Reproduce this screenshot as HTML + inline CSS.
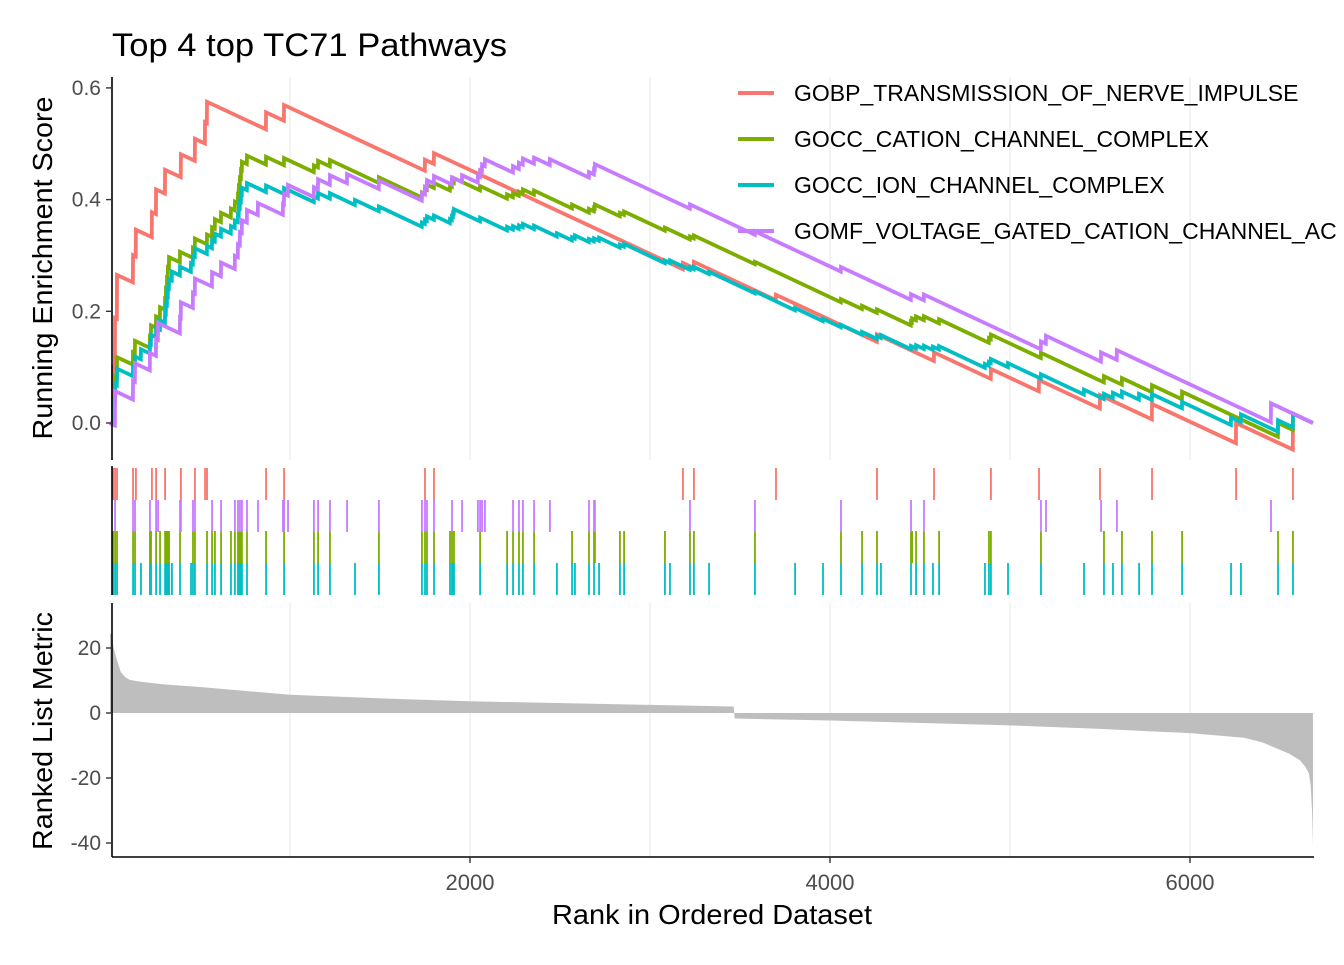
<!DOCTYPE html>
<html><head><meta charset="utf-8"><style>
html,body{margin:0;padding:0;background:#fff;}
svg text{font-family:"Liberation Sans",Arial,sans-serif;}
</style></head><body>
<svg id="chart" width="1344" height="960" xmlns="http://www.w3.org/2000/svg">
<rect width="1344" height="960" fill="#fff"/>
<g id="grid"></g>
<g id="metric"></g>
<g id="hits"></g>
<g id="lines"></g>
<g id="axes"></g>
<text x="112" y="56" font-size="32" textLength="395" lengthAdjust="spacingAndGlyphs" fill="#000">Top 4 top TC71 Pathways</text>
<text transform="translate(52,268) rotate(-90)" text-anchor="middle" font-size="28" textLength="343" lengthAdjust="spacingAndGlyphs">Running Enrichment Score</text>
<text transform="translate(52,731) rotate(-90)" text-anchor="middle" font-size="28" textLength="238" lengthAdjust="spacingAndGlyphs">Ranked List Metric</text>
<text x="712" y="924" text-anchor="middle" font-size="28" textLength="320" lengthAdjust="spacingAndGlyphs">Rank in Ordered Dataset</text>
<g id="legend"></g>
</svg>
<script>
const N = 6683;
const seriesNames = ["GOBP_TRANSMISSION_OF_NERVE_IMPULSE","GOCC_CATION_CHANNEL_COMPLEX","GOCC_ION_CHANNEL_COMPLEX","GOMF_VOLTAGE_GATED_CATION_CHANNEL_AC"];
const seriesColors = ["#F8766D","#7CAE00","#00BFC4","#C77CFF"];
const hitsRed = [17,28,39,128,144,233,256,306,394,472,528,539,867,967,1750,1800,3183,3244,3700,4261,4578,4894,5161,5500,5789,6256,6572];
const hitsGreen = [17,28,39,128,139,222,228,256,278,306,311,317,322,328,389,461,472,539,567,583,617,672,694,711,716,722,728,733,761,867,967,1133,1156,1222,1494,1733,1750,1761,1800,1889,1900,1911,2056,2206,2239,2272,2294,2356,2567,2661,2689,2694,2833,2856,3083,3222,3244,3583,4061,4178,4261,4450,4456,4478,4522,4606,4883,4894,5172,5522,5622,5789,5956,6489,6572];
const hitsCyan = [17,28,39,128,139,172,222,228,256,278,306,311,317,322,328,344,389,450,461,472,539,567,583,617,672,694,711,716,722,728,733,761,867,967,1133,1156,1222,1361,1494,1733,1750,1761,1800,1889,1900,1906,1911,2056,2206,2239,2272,2294,2356,2483,2567,2583,2661,2689,2717,2833,2856,3083,3111,3222,3244,3328,3583,3806,3961,4061,4178,4261,4283,4450,4478,4522,4572,4606,4861,4883,4894,4989,5172,5411,5522,5572,5622,5717,5789,5956,6228,6283,6489,6572];
const hitsPurple = [28,128,139,222,256,267,389,394,461,472,567,617,694,711,722,733,761,822,961,967,989,1133,1156,1222,1317,1494,1733,1750,1761,1800,1900,1956,2044,2056,2067,2083,2239,2272,2294,2356,2444,2661,2689,2694,3222,3583,4061,4450,4522,5172,5200,5506,5594,6450];
const metricRanks = [0,10,20,40,60,85,110,170,300,500,1000,1600,2000,3000,3465,3470,4000,5000,5500,6000,6300,6400,6550,6610,6640,6660,6670,6678,6683];
const metricValues = [24.6,24,20,16,12.6,11,10.2,9.6,8.8,8,5.6,4.3,3.6,2.5,2.0,-1.7,-2.3,-3.8,-4.9,-6.2,-7.6,-9,-12.5,-14.5,-16.5,-18.5,-22,-30,-41];
const esTicks = [0.0,0.2,0.4,0.6];
const metricTicks = [20,0,-20,-40];
const xTicks = [2000,4000,6000];
const gridRanks = [1000,2000,3000,4000,5000,6000];

const NS = "http://www.w3.org/2000/svg";
const X = r => 110 + r * 0.18;
const Yes = v => 423 - v * 558.5;
const Ym = v => 713 - v * 3.25;
function mk(tag, attrs, parent){const e=document.createElementNS(NS,tag);for(const k in attrs)e.setAttribute(k,attrs[k]);parent.appendChild(e);return e;}
function metricAt(r){
  for(let i=1;i<metricRanks.length;i++){ if(r<=metricRanks[i]){const a=metricRanks[i-1],b=metricRanks[i];const t=(r-a)/(b-a||1);return metricValues[i-1]+t*(metricValues[i]-metricValues[i-1]);} }
  return metricValues[metricValues.length-1];
}
const grid=document.getElementById('grid');
gridRanks.forEach(r=>{
  const l1=mk('line',{x1:X(r),x2:X(r),y1:77,y2:460,stroke:'#EBEBEB','stroke-width':1.2},grid);
  
  
  const l2=mk('line',{x1:X(r),x2:X(r),y1:603,y2:857,stroke:'#EBEBEB','stroke-width':1.2},grid);
  
  
});
let d='M'+X(0)+','+Ym(0);
metricRanks.forEach((r,i)=>{d+=' L'+X(r)+','+Ym(metricValues[i]);});
d+=' L'+X(N)+','+Ym(0)+' Z';
const area=mk('path',{d:d,fill:'#BEBEBE',stroke:'none'},document.getElementById('metric'));


const hitSets=[hitsRed,hitsGreen,hitsCyan,hitsPurple];
const bandTop=[468,531,563,500];
const hg=document.getElementById('hits');
hitSets.forEach((hs,si)=>{
  hs.forEach(r=>{
    const t=mk('rect',{x:X(r)-0.9,y:bandTop[si],width:1.8,height:32,fill:seriesColors[si]},hg);
    
    
  });
});
const lg=document.getElementById('lines');
hitSets.forEach((hs,si)=>{
  const sorted=[...hs].sort((a,b)=>a-b);
  let tot=0; sorted.forEach(r=>tot+=Math.abs(metricAt(r)));
  const miss=1/(N-sorted.length);
  let es=0,prev=0;
  let p='M'+X(0)+','+Yes(0);
  sorted.forEach(r=>{
    es-= (r-prev-1)*miss;
    p+=' L'+X(r-1).toFixed(2)+','+Yes(es).toFixed(2);
    es+= Math.abs(metricAt(r))/tot;
    p+=' L'+X(r).toFixed(2)+','+Yes(es).toFixed(2);
    prev=r;
  });
  es-=(N-prev)*miss;
  p+=' L'+X(N)+','+Yes(es).toFixed(2);
  const path=mk('path',{d:p,fill:'none',stroke:seriesColors[si],'stroke-width':3.8,'stroke-linejoin':'miter'},lg);
  
  
});
const ax=document.getElementById('axes');
[[112,77,112,460],[112,466,112,595],[112,603,112,857],[112,857,1314,857]].forEach(a=>{
  const l=mk('line',{x1:a[0],y1:a[1],x2:a[2],y2:a[3],stroke:'#000','stroke-width':1.6},ax);
  
  
});
esTicks.forEach(v=>{
  const l=mk('line',{x1:106,x2:112,y1:Yes(v),y2:Yes(v),stroke:'#333','stroke-width':1.4},ax);
  
  
  const t=mk('text',{x:101,y:Yes(v)+7,'text-anchor':'end','font-size':21,fill:'#4D4D4D'},ax);
  t.textContent=v.toFixed(1);
  
  
});
metricTicks.forEach(v=>{
  const l=mk('line',{x1:106,x2:112,y1:Ym(v),y2:Ym(v),stroke:'#333','stroke-width':1.4},ax);
  
  
  const t=mk('text',{x:101,y:Ym(v)+7,'text-anchor':'end','font-size':21,fill:'#4D4D4D'},ax);
  t.textContent=v;
  
  
});
xTicks.forEach(v=>{
  const l=mk('line',{x1:X(v),x2:X(v),y1:857,y2:863,stroke:'#333','stroke-width':1.4},ax);
  
  
  const t=mk('text',{x:X(v),y:890,'text-anchor':'middle','font-size':22,fill:'#4D4D4D'},ax);
  t.textContent=v;
  
  
});
const leg=document.getElementById('legend');
seriesNames.forEach((n,i)=>{
  const y=93+i*46;
  const l=mk('line',{x1:738,x2:774,y1:y,y2:y,stroke:seriesColors[i],'stroke-width':4},leg);
  
  
  const t=mk('text',{x:794,y:y+8,'font-size':23,fill:'#000'},leg);
  t.textContent=n;
  
  
});
</script>
</body></html>
